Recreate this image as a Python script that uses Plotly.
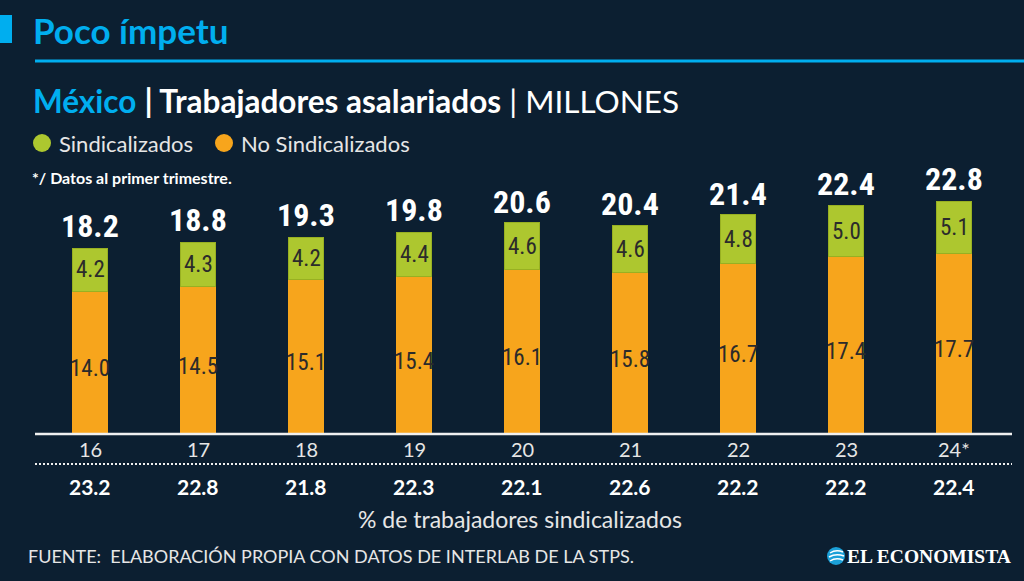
import plotly.graph_objects as go

years = ["16", "17", "18", "19", "20", "21", "22", "23", "24*"]
sindicalizados = [4.2, 4.3, 4.2, 4.4, 4.6, 4.6, 4.8, 5.0, 5.1]
no_sindicalizados = [14.0, 14.5, 15.1, 15.4, 16.1, 15.8, 16.7, 17.4, 17.7]
totales = [18.2, 18.8, 19.3, 19.8, 20.6, 20.4, 21.4, 22.4, 22.8]
pct_sindicalizados = [23.2, 22.8, 21.8, 22.3, 22.1, 22.6, 22.2, 22.2, 22.4]

BG = "#0c1f31"
CYAN = "#00aeef"
GREEN = "#adc72f"
ORANGE = "#f7a51c"
MAIN = "Lato, 'Noto Sans', sans-serif"
NARROW = "'Roboto Condensed', 'Liberation Sans Narrow', 'DejaVu Sans Condensed', sans-serif"

W, H = 1024, 581
ML, MR, MT, MB = 36, 16, 190, 147
PW = W - ML - MR
PH = H - MT - MB


def px(x):
    return (x - ML) / PW


def py(y):
    return (H - MB - y) / PH


idx = list(range(len(years)))

fig = go.Figure()
fig.add_trace(go.Bar(x=idx, y=no_sindicalizados, name="No Sindicalizados",
                     marker=dict(color=ORANGE, line=dict(width=0)), hoverinfo="skip"))
fig.add_trace(go.Bar(x=idx, y=sindicalizados, name="Sindicalizados",
                     marker=dict(color=GREEN, line=dict(width=1, color="#98b022")), hoverinfo="skip"))

ann = []
for i, yr in enumerate(years):
    ns = no_sindicalizados[i]
    s = sindicalizados[i]
    ann.append(dict(x=i, y=ns / 2, text=f"{ns:.1f}", showarrow=False, yshift=-6,
                    font=dict(family=NARROW, size=23, color="#2b2b2b")))
    ann.append(dict(x=i, y=ns + s / 2, text=f"{s:.1f}", showarrow=False,
                    font=dict(family=NARROW, size=23, color="#2b2b2b")))
    ann.append(dict(x=i, y=totales[i], text=f"<b>{totales[i]:.1f}</b>", showarrow=False,
                    yanchor="bottom", yshift=1,
                    font=dict(family=NARROW, size=32, color="white")))
    ann.append(dict(x=i, y=0, text=yr, showarrow=False, yanchor="middle", yshift=-15,
                    font=dict(family=MAIN, size=20, color="#e6e6e6")))
    ann.append(dict(x=i, y=0, text=f"<b>{pct_sindicalizados[i]:.1f}</b>", showarrow=False,
                    yanchor="middle", yshift=-52,
                    font=dict(family=MAIN, size=21, color="white")))


def txt(x, y, text, size, color="white", family=MAIN, xanchor="left"):
    ann.append(dict(xref="paper", yref="paper", x=px(x), y=py(y), text=text,
                    showarrow=False, xanchor=xanchor, yanchor="middle",
                    font=dict(family=family, size=size, color=color)))


txt(31, 30, "<b>Poco ímpetu</b>", 35, CYAN)
txt(31, 101, f"<span style='color:{CYAN}'><b>México</b></span> <b>| Trabajadores asalariados</b> | MILLONES", 31.5)
txt(57, 143, "Sindicalizados", 22, "#e6e6e6")
txt(239, 143, "No Sindicalizados", 22, "#e6e6e6")
txt(30, 177, "<b>*/ Datos al primer trimestre.</b>", 16)
txt(520, 519, "% de trabajadores sindicalizados", 23, "#e6e6e6", xanchor="center")
txt(26, 556, "FUENTE:  ELABORACIÓN PROPIA CON DATOS DE INTERLAB DE LA STPS.", 18, "#e6e6e6")
txt(1013, 556, "<b>EL ECONOMISTA</b>", 19.5, "white", family="'Liberation Serif', serif", xanchor="right")

shapes = [
    dict(type="rect", xref="paper", yref="paper", x0=px(0), x1=px(12), y0=py(15), y1=py(43),
         fillcolor=CYAN, line=dict(width=0)),
    dict(type="line", xref="paper", yref="paper", x0=px(35), x1=px(1024), y0=py(61), y1=py(61),
         line=dict(color=CYAN, width=3)),
    dict(type="circle", xref="paper", yref="paper", x0=px(33), x1=px(51), y0=py(134), y1=py(152),
         fillcolor=GREEN, line=dict(width=0)),
    dict(type="circle", xref="paper", yref="paper", x0=px(215), x1=px(233), y0=py(134), y1=py(152),
         fillcolor=ORANGE, line=dict(width=0)),
    dict(type="line", xref="paper", yref="paper", x0=px(35), x1=px(1012), y0=py(434), y1=py(434),
         line=dict(color="#f0f0f0", width=2.5)),
    dict(type="line", xref="paper", yref="paper", x0=px(35), x1=px(1012), y0=py(464), y1=py(464),
         line=dict(color="#f0f0f0", width=2, dash="2px,2px")),
    dict(type="circle", xref="paper", yref="paper", x0=px(827), x1=px(845), y0=py(547), y1=py(565),
         fillcolor="#1ba0d8", line=dict(width=0)),
    dict(type="path", xref="paper", yref="paper",
         path=f"M {px(830)},{py(553)} Q {px(836)},{py(549)} {px(843)},{py(552)} "
              f"M {px(829)},{py(557)} Q {px(836)},{py(553)} {px(844)},{py(556)} "
              f"M {px(830)},{py(561)} Q {px(836)},{py(557)} {px(843)},{py(560)}",
         line=dict(color="white", width=1.5)),
]

fig.update_layout(
    width=W, height=H,
    margin=dict(l=ML, r=MR, t=MT, b=MB, pad=0),
    paper_bgcolor=BG, plot_bgcolor=BG,
    barmode="stack", bargap=0.667,
    showlegend=False,
    xaxis=dict(range=[-0.5, 8.5], showticklabels=False, showgrid=False, zeroline=False,
               ticks="", showline=False, fixedrange=True),
    yaxis=dict(range=[0, PH / 10.2], showticklabels=False, showgrid=False, zeroline=False,
               ticks="", showline=False, fixedrange=True),
    annotations=ann,
    shapes=shapes,
)

fig.write_html("out.html", config={"displayModeBar": False},
               post_script="document.body.style.margin='0';document.body.style.background='#0c1f31';")
